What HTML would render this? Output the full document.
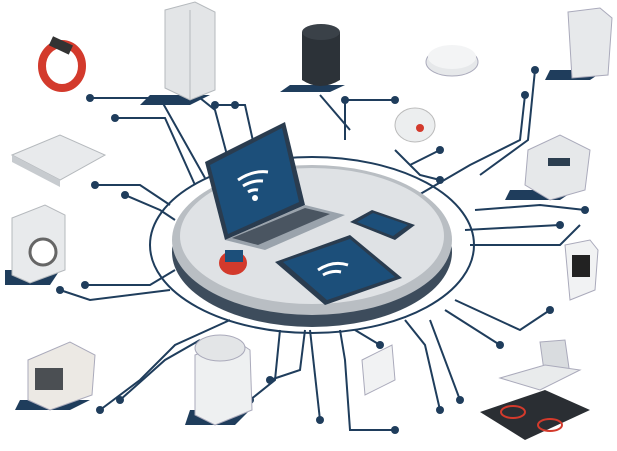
<!DOCTYPE html>
<html><head><meta charset="utf-8"><style>html,body{margin:0;padding:0;background:#fff}svg{display:block}</style></head>
<body>
<svg width="617" height="451" viewBox="0 0 617 451" xmlns="http://www.w3.org/2000/svg">
<g fill="none" stroke="#1f3d5c" stroke-width="2">
<ellipse cx="312" cy="245" rx="162" ry="88"/>
<!-- circuit lines -->
<path d="M90 98 L160 98 L205 178"/><path d="M115 118 L165 118 L195 185"/>
<path d="M190 90 L215 110 L235 185"/><path d="M215 105 L245 105 L255 150"/>
<path d="M345 100 L345 140"/><path d="M345 100 L395 100"/>
<path d="M320 95 L350 130"/>
<path d="M525 95 L520 140 L470 165 L410 200"/><path d="M535 70 L528 140 L480 175"/>
<path d="M410 165 L440 150"/><path d="M395 150 L420 175 L440 180"/>
<path d="M95 185 L140 185 L170 205"/><path d="M125 195 L160 210 L175 220"/>
<path d="M60 290 L90 300 L170 290"/><path d="M85 285 L150 285 L175 270"/>
<path d="M475 210 L540 205 L585 210"/><path d="M465 230 L560 225"/><path d="M470 245 L560 245 L580 225"/>
<path d="M455 300 L520 330 L550 310"/><path d="M445 310 L500 345"/><path d="M430 320 L460 400"/>
<path d="M405 320 L425 345 L440 410"/>
<path d="M100 410 L140 380 L175 345 L230 320"/><path d="M120 400 L165 360 L200 340"/>
<path d="M250 400 L275 380 L280 330"/><path d="M270 380 L300 370 L305 330"/>
<path d="M340 330 L345 360 L350 430 L395 430"/><path d="M355 330 L380 345"/>
<path d="M310 330 L320 420"/>
</g>
<g fill="#1f3d5c">
<circle cx="90" cy="98" r="4"/><circle cx="115" cy="118" r="4"/><circle cx="190" cy="90" r="4"/><circle cx="215" cy="105" r="4"/><circle cx="235" cy="105" r="4"/>
<circle cx="345" cy="100" r="4"/><circle cx="395" cy="100" r="4"/><circle cx="525" cy="95" r="4"/><circle cx="535" cy="70" r="4"/>
<circle cx="440" cy="150" r="4"/><circle cx="440" cy="180" r="4"/><circle cx="95" cy="185" r="4"/><circle cx="125" cy="195" r="4"/>
<circle cx="60" cy="290" r="4"/><circle cx="85" cy="285" r="4"/><circle cx="585" cy="210" r="4"/><circle cx="560" cy="225" r="4"/>
<circle cx="550" cy="310" r="4"/><circle cx="500" cy="345" r="4"/><circle cx="460" cy="400" r="4"/><circle cx="440" cy="410" r="4"/>
<circle cx="100" cy="410" r="4"/><circle cx="120" cy="400" r="4"/><circle cx="250" cy="400" r="4"/><circle cx="270" cy="380" r="4"/>
<circle cx="395" cy="430" r="4"/><circle cx="380" cy="345" r="4"/><circle cx="320" cy="420" r="4"/>
<!-- shadows -->
<path d="M150 95 L210 95 L190 105 L140 105Z"/><path d="M290 85 L345 85 L330 92 L280 92Z"/>
<path d="M550 70 L605 70 L590 80 L545 80Z"/><path d="M5 270 L60 270 L50 285 L5 285Z"/>
<path d="M20 400 L90 400 L70 410 L15 410Z"/><path d="M510 190 L575 190 L560 200 L505 200Z"/>
<path d="M190 410 L250 410 L235 425 L185 425Z"/>
</g>
<!-- platform -->
<ellipse cx="312" cy="252" rx="140" ry="75" fill="#3d4c5c"/>
<ellipse cx="312" cy="240" rx="140" ry="75" fill="#b9bec3"/>
<ellipse cx="312" cy="236" rx="132" ry="68" fill="#dfe2e5"/>
<!-- laptop -->
<path d="M205 162 L285 122 L305 205 L225 240Z" fill="#2a3c4f"/>
<path d="M210 165 L282 128 L299 202 L228 234Z" fill="#1c4f7a"/>
<path d="M225 240 L305 205 L345 215 L265 250Z" fill="#9aa3ac"/>
<path d="M232 238 L305 208 L330 214 L258 245Z" fill="#4a5561"/>
<path d="M238 180 q15 -10 30 -8 M243 186 q10 -6 20 -5 M248 192 q5 -3 10 -2" stroke="#fff" stroke-width="3" fill="none"/>
<circle cx="255" cy="198" r="3" fill="#fff"/>
<!-- tablet -->
<path d="M275 262 L350 235 L402 278 L325 305Z" fill="#2a3c4f"/>
<path d="M283 262 L350 239 L395 277 L327 300Z" fill="#1c4f7a"/>
<path d="M318 270 q15 -10 30 -5 M323 275 q9 -5 18 -3" stroke="#fff" stroke-width="3" fill="none"/>
<!-- phone -->
<path d="M350 222 L372 210 L415 225 L395 240Z" fill="#2a3c4f"/>
<path d="M357 222 L373 213 L408 225 L393 236Z" fill="#1c4f7a"/>
<!-- watch -->
<ellipse cx="233" cy="263" rx="14" ry="12" fill="#d33a2c"/><rect x="225" y="250" width="18" height="12" fill="#1c4f7a"/>
<!-- devices -->
<ellipse cx="62" cy="66" rx="20" ry="22" fill="none" stroke="#d33a2c" stroke-width="8"/><rect x="50" y="40" width="22" height="10" fill="#333" transform="rotate(25 60 45)"/>
<path d="M165 10 L195 2 L215 12 L215 90 L190 100 L165 88Z" fill="#e3e5e7" stroke="#b5b9bd"/><path d="M190 10 L190 100" stroke="#b5b9bd"/>
<path d="M302 32 L302 80 Q320 92 340 80 L340 32Z" fill="#2c3238"/><ellipse cx="321" cy="32" rx="19" ry="8" fill="#3a4148"/>
<ellipse cx="452" cy="62" rx="26" ry="14" fill="#e6e8ea" stroke="#aab"/><ellipse cx="452" cy="57" rx="24" ry="12" fill="#f3f4f5"/>
<path d="M568 12 L600 8 L612 18 L608 75 L572 78Z" fill="#e7e9eb" stroke="#aab"/>
<ellipse cx="415" cy="125" rx="20" ry="17" fill="#eceeef" stroke="#bbb"/><circle cx="420" cy="128" r="4" fill="#d33a2c"/>
<path d="M12 155 L60 135 L105 155 L60 180Z" fill="#e8eaec" stroke="#b5b9bd"/><path d="M12 155 L60 180 L60 187 L12 162Z" fill="#c7cbcf"/>
<path d="M12 218 L45 205 L65 215 L65 270 L30 283 L12 275Z" fill="#e8eaec" stroke="#b5b9bd"/><circle cx="43" cy="252" r="13" fill="#fff" stroke="#666" stroke-width="3"/>
<path d="M528 150 L560 135 L590 150 L585 190 L550 200 L525 185Z" fill="#e6e8ea" stroke="#aab"/><rect x="548" y="158" width="22" height="8" fill="#2c3e50"/>
<path d="M565 245 L590 240 L598 250 L595 290 L570 300Z" fill="#f1f2f3" stroke="#aab"/><rect x="572" y="255" width="18" height="22" fill="#222"/>
<path d="M28 360 L70 342 L95 355 L92 395 L50 410 L28 400Z" fill="#ece9e4" stroke="#aab"/><rect x="35" y="368" width="28" height="22" fill="#4b4f53"/>
<path d="M195 355 L235 340 L250 350 L252 410 L215 425 L195 415Z" fill="#eef0f1" stroke="#aab"/><ellipse cx="220" cy="348" rx="25" ry="13" fill="#e3e5e7" stroke="#aab"/>
<path d="M362 360 L392 345 L395 380 L365 395Z" fill="#f1f2f3" stroke="#aab"/>
<path d="M540 342 L565 340 L570 375 L545 378Z" fill="#d9dcdf" stroke="#aab"/><path d="M500 378 L545 365 L580 370 L540 390Z" fill="#e9ebec" stroke="#aab"/>
<path d="M480 412 L545 390 L590 410 L525 440Z" fill="#2a2e33"/>
<ellipse cx="513" cy="412" rx="12" ry="6" fill="none" stroke="#d33a2c" stroke-width="2"/><ellipse cx="550" cy="425" rx="12" ry="6" fill="none" stroke="#d33a2c" stroke-width="2"/>
</svg>
</body></html>
